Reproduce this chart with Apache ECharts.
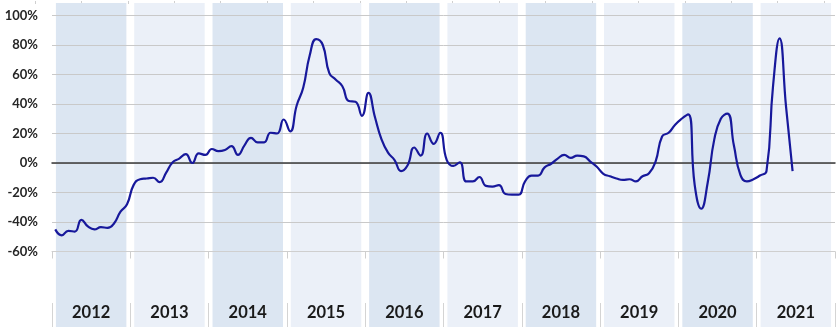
<!DOCTYPE html>
<html>
<head>
<meta charset="utf-8">
<script src="https://cdn.jsdelivr.net/npm/echarts@6/dist/echarts.min.js"></script>
<style>
html, body { margin: 0; padding: 0; background: #fff; }
#chart { width: 838px; height: 332px; }
</style>
</head>
<body>
<div id="chart"></div>
<script>
// year bands / labels
var years = ['2012', '2013', '2014', '2015', '2016', '2017', '2018', '2019', '2020', '2021'];

// monthly change, %
var y2012 = [-45, -49, -46, -46.5, -38.5, -43, -45, -43.5, -44, -41, -33, -28];
var y2013 = [-15, -11, -10.5, -10, -13, -6.5, 0.5, 3, 6, 0, 6.5, 5.5];
var y2014 = [9.5, 8, 8.8, 11.5, 5.5, 12, 17, 14, 14, 20.5, 20, 29.5];
var y2015 = [21.5, 39, 51, 73, 84, 80, 61, 56.5, 52, 42, 41.5, 32];
var y2016 = [47.5, 31, 16, 7, 2, -5.5, -1.5, 10.5, 5, 20, 13, 20.5];
var y2017 = [2, -2, 0.5, -12.5, -12.5, -9.5, -15.5, -16, -15, -21, -21.5, -21.5];
var y2018 = [-12.5, -8.5, -8.5, -3, -0.5, 3, 5.5, 3.5, 5, 4.5, 1, -2.5];
var y2019 = [-7.3, -9, -10.5, -11.5, -11, -12.5, -9, -7, 1, 18, 20.5, 26];
var y2020 = [30, 33, -15, -31, -13, 16, 30, 33.5, 12, -8, -12.5, -11];
var y2021 = [-8.5, -5.5, 52, 84.5, 38, -5.5];

var yTicks = { min: -60, max: 100, step: 20 };

var months = [];
years.forEach(function (y) {
  for (var m = 1; m <= 12; m++) months.push(y + '-' + (m < 10 ? '0' + m : m));
});
var values = [].concat(y2012, y2013, y2014, y2015, y2016, y2017, y2018, y2019, y2020, y2021);

var bandDark = '#dce6f2', bandLight = '#ebf0f8';
var font = 'Lato';

var myChart = echarts.init(document.getElementById('chart'));
myChart.setOption({
  animation: false,
  backgroundColor: '#fff',
  grid: [
    { left: 52, right: 3, top: 3, bottom: 5 },          // bands
    { left: 52, right: 3, top: 15.5, bottom: 80.5 },    // line
    { left: 35, right: 14, top: 3, height: 1 }          // top tick row
  ],
  xAxis: [
    {
      gridIndex: 0, type: 'category', data: years, z: 3,
      axisLine: { show: false },
      axisTick: { show: true, inside: true, length: 24, interval: 0, lineStyle: { color: '#d4d4d4' } },
      axisLabel: { inside: true, margin: 6, interval: 0, fontFamily: font, fontWeight: 'bold', fontSize: 16.5, color: '#1a1a1a' }
    },
    {
      gridIndex: 1, type: 'category', data: months, position: 'bottom', z: 5,
      axisLine: { onZero: true, lineStyle: { color: '#3a3a3a', width: 1.5 } },
      axisTick: { show: false },
      axisLabel: { show: false }
    },
    {
      gridIndex: 1, type: 'category', data: years, position: 'bottom', z: 5,
      axisLine: { onZero: false, lineStyle: { color: '#cfcfcf' } },
      axisTick: { show: true, length: 7, interval: 0, lineStyle: { color: '#cfcfcf' } },
      axisLabel: { show: false }
    },
    {
      gridIndex: 2, type: 'value', min: 0, max: 17, interval: 1, position: 'top',
      axisLine: { show: false },
      axisTick: { show: true, length: 3, lineStyle: { color: '#cfcfcf' } },
      axisLabel: { show: false },
      splitLine: { show: false }
    }
  ],
  yAxis: [
    { gridIndex: 0, type: 'value', min: 0, max: 1, show: false },
    {
      gridIndex: 1, type: 'value', min: yTicks.min, max: yTicks.max, interval: yTicks.step, z: 5,
      axisLine: { show: false },
      axisTick: { show: false },
      axisLabel: { formatter: '{value}%', margin: 14, fontFamily: font, fontWeight: 'bold', fontSize: 13, color: '#262626' },
      splitLine: { lineStyle: { color: '#c9c9c9' } }
    },
    { gridIndex: 2, type: 'value', show: false }
  ],
  series: [
    {
      type: 'bar', xAxisIndex: 0, yAxisIndex: 0, z: 1,
      barCategoryGap: '10%',
      silent: true,
      data: years.map(function (y, i) {
        return { value: 1, itemStyle: { color: i % 2 === 0 ? bandDark : bandLight } };
      })
    },
    {
      type: 'line', xAxisIndex: 1, yAxisIndex: 1, z: 6,
      data: values,
      smooth: 0.5,
      showSymbol: false,
      lineStyle: { color: '#17189b', width: 2.2 }
    }
  ]
});
</script>
</body>
</html>
